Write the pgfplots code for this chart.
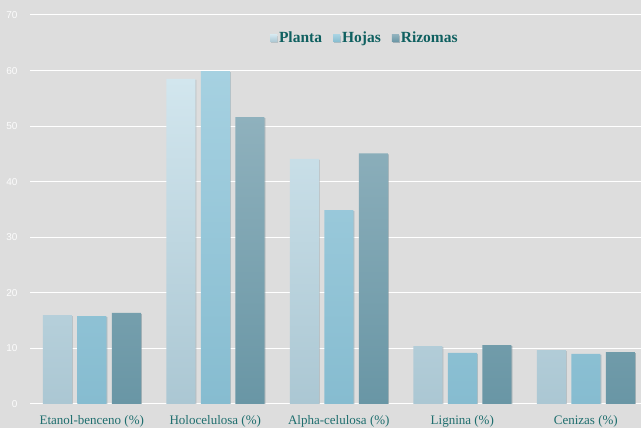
\documentclass[border=0pt]{standalone}
\usepackage{fontspec}
\setmainfont{Liberation Serif}
\newfontfamily\tickfont{Liberation Sans}
\usepackage{pgfplots}
\pgfplotsset{compat=1.18}
\usetikzlibrary{shadows}
\definecolor{bg}{HTML}{DDDDDD}
\definecolor{pTop}{HTML}{D2E6EE}
\definecolor{pBot}{HTML}{ABC7D3}
\definecolor{hTop}{HTML}{A6D1E1}
\definecolor{hBot}{HTML}{86BCD0}
\definecolor{rTop}{HTML}{8FB1BD}
\definecolor{rBot}{HTML}{6996A5}
\definecolor{teal1}{HTML}{1E6E6E}
\definecolor{teal2}{HTML}{0F6060}
\begin{document}
\begin{tikzpicture}[x=1pt,y=1pt]
\useasboundingbox (0,0) rectangle (641,428);
\fill[bg] (0,0) rectangle (641,428);
\begin{axis}[
  at={(30pt,24pt)}, anchor=south west,
  scale only axis, width=611pt, height=389pt,
  xmin=-0.5, xmax=4.447, ymin=0, ymax=70,
  axis line style={draw=none},
  ytick={0,10,...,70},
  xtick={0,1,2,3,4},
  xticklabels={Etanol-benceno (\%),Holocelulosa (\%),Alpha-celulosa (\%),Lignina (\%),Cenizas (\%)},
  xticklabel style={font=\fontsize{13}{14}\selectfont, text=teal1, yshift=-8pt},
  yticklabel style={font=\tickfont\fontsize{10}{11}\selectfont, text=white!92!bg, xshift=-9pt},
  /pgf/number format/assume math mode=true,
  major tick length=0pt,
  ymajorgrids, grid style={white, line width=1pt},
  ybar, bar width=29pt,
  legend style={at={(0.548,0.94)}, anchor=center, draw=none, fill=none,
    legend columns=-1, font=\bfseries\fontsize{15.5}{16}\selectfont, text=teal2,
    /tikz/every even column/.append style={column sep=9pt}},
  legend image code/.code={\shade[top color=\pgfkeysvalueof{/pgfplots/lgtop},bottom color=\pgfkeysvalueof{/pgfplots/lgbot}] (0pt,-3.5pt) rectangle (7pt,3.5pt);},
  lgtop/.initial=white, lgbot/.initial=white,
]
\addplot[bar shift=-34.5pt, draw=none, top color=pTop, bottom color=pBot, lgtop=pTop, lgbot=pBot,
  drop shadow={shadow xshift=1pt, shadow yshift=-1pt, opacity=0.35, fill=gray}]
  coordinates {(0,16.0) (1,58.5) (2,44.1) (3,10.4) (4,9.7)};
\addplot[bar shift=0pt, draw=none, top color=hTop, bottom color=hBot, lgtop=hTop, lgbot=hBot,
  drop shadow={shadow xshift=1pt, shadow yshift=-1pt, opacity=0.35, fill=gray}]
  coordinates {(0,15.8) (1,59.9) (2,34.9) (3,9.2) (4,9.0)};
\addplot[bar shift=34.5pt, draw=none, top color=rTop, bottom color=rBot, lgtop=rTop, lgbot=rBot,
  drop shadow={shadow xshift=1pt, shadow yshift=-1pt, opacity=0.35, fill=gray}]
  coordinates {(0,16.4) (1,51.6) (2,45.1) (3,10.6) (4,9.35)};
\legend{Planta,Hojas,Rizomas}
\end{axis}
\end{tikzpicture}
\end{document}
